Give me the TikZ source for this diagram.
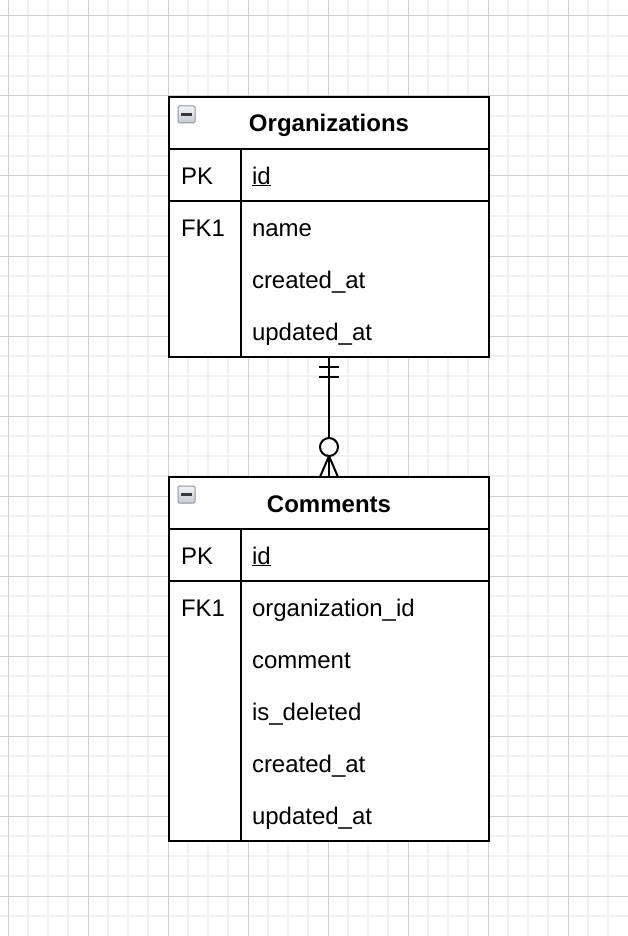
\documentclass[tikz,border=0pt]{standalone}
\usepackage{fontspec}
\setmainfont{Liberation Sans}
\usetikzlibrary{calc}
\definecolor{minorgrid}{HTML}{F0F0F0}
\definecolor{majorgrid}{HTML}{D0D0D0}
\definecolor{iconborder}{HTML}{8E949C}
\definecolor{icontop}{HTML}{F4F6F8}
\definecolor{iconbot}{HTML}{C4CAD2}
\definecolor{iconbar}{HTML}{3A3A3A}
\begin{document}
\begin{tikzpicture}[x=1pt,y=-1pt,
  gridminor/.style={draw=minorgrid, line width=1.5pt},
  gridmajor/.style={draw=majorgrid, line width=1pt},
  tbl/.style={draw=black, fill=white, line width=2pt, inner sep=0pt, outer sep=0pt, minimum width=320pt},
  sep/.style={draw=black, line width=2pt},
  txt/.style={anchor=base west, inner sep=0pt, outer sep=0pt, font=\fontsize{24}{28}\selectfont},
  hdr/.style={anchor=base, inner sep=0pt, outer sep=0pt, font=\fontsize{24}{28}\selectfont\bfseries},
  icon/.style={draw=iconborder, line width=1pt, top color=icontop, bottom color=iconbot, rounded corners=1.5pt, minimum size=17pt, inner sep=0pt},
  iconminus/.style={draw=iconbar, line width=2.5pt},
  rel/.style={draw=black, line width=2pt},
  relcircle/.style={draw=black, fill=white, line width=2pt, circle, minimum size=18pt, inner sep=0pt}
]
\useasboundingbox (0,0) rectangle (628,936);
\fill[white] (0,0) rectangle (628,936);
% grid
\foreach \x in {28,48,68,108,128,148,188,208,228,268,288,308,348,368,388,428,448,468,508,528,548,588,608}
  \draw[gridminor] (\x,0) -- (\x,936);
\foreach \y in {36,56,76,116,136,156,196,216,236,276,296,316,356,376,396,436,456,476,516,536,556,596,616,636,676,696,716,756,776,796,836,856,876,916}
  \draw[gridminor] (0,\y) -- (628,\y);
\foreach \x in {8,88,168,248,328,408,488,568}
  \draw[gridmajor] (\x,0) -- (\x,936);
\foreach \y in {16,96,176,256,336,416,496,576,656,736,816,896}
  \draw[gridmajor] (0,\y) -- (628,\y);

% Organizations table
\node[tbl, minimum height=260pt] (org) at (329,227) {};
\draw[sep] (169,149) -- (489,149);
\draw[sep] (169,201) -- (489,201);
\draw[sep] (241,149) -- (241,357);
\node[icon] (orgicon) at (186.5,114.5) {};
\draw[iconminus] ($(orgicon.center)+(-5.5,0)$) -- ($(orgicon.center)+(5.5,0)$);
\node[hdr] (orgtitle) at (329,132) {Organizations};
\node[txt] (orgpk) at (181,184) {PK};
\node[txt] (orgid) at (252,184) {\underline{id}};
\node[txt] (orgfk) at (181,236) {FK1};
\node[txt] (orgname) at (252,236) {name};
\node[txt] (orgcreated) at (252,288) {created\_at};
\node[txt] (orgupdated) at (252,340) {updated\_at};

% Comments table
\node[tbl, minimum height=364pt] (com) at (329,659) {};
\draw[sep] (169,529) -- (489,529);
\draw[sep] (169,581) -- (489,581);
\draw[sep] (241,529) -- (241,841);
\node[icon] (comicon) at (186.5,494.5) {};
\draw[iconminus] ($(comicon.center)+(-5.5,0)$) -- ($(comicon.center)+(5.5,0)$);
\node[hdr] (comtitle) at (329,512) {Comments};
\node[txt] (compk) at (181,564) {PK};
\node[txt] (comid) at (252,564) {\underline{id}};
\node[txt] (comfk) at (181,616) {FK1};
\node[txt] (comorg) at (252,616) {organization\_id};
\node[txt] (comcomment) at (252,668) {comment};
\node[txt] (comdel) at (252,720) {is\_deleted};
\node[txt] (comcreated) at (252,772) {created\_at};
\node[txt] (comupdated) at (252,824) {updated\_at};

% relationship
\draw[rel] (org.south) -- (com.north);
\draw[rel] ($(org.south)+(-10,10)$) -- ($(org.south)+(10,10)$);
\draw[rel] ($(org.south)+(-10,20)$) -- ($(org.south)+(10,20)$);
\draw[rel] ($(com.north)+(-9,0)$) -- ($(com.north)+(0,-21)$) -- ($(com.north)+(9,0)$);
\node[relcircle] (crowcircle) at ($(com.north)+(0,-30)$) {};
\end{tikzpicture}
\end{document}
